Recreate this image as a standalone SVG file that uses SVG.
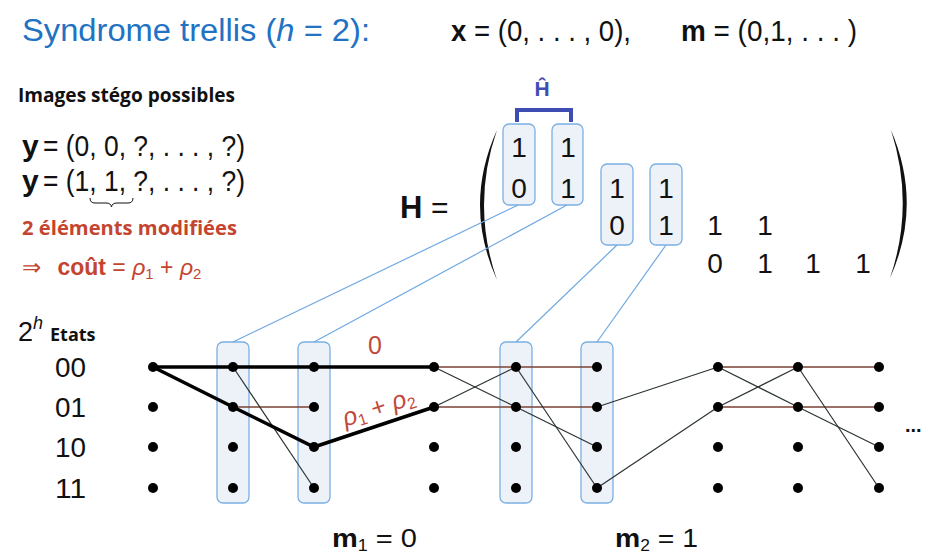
<svg xmlns="http://www.w3.org/2000/svg" width="928" height="554" viewBox="0 0 928 554">
<style>
.sans{font-family:"Liberation Sans",Arial,sans-serif}
.cal{font-family:"Open Sans","Liberation Sans",sans-serif}
.box{fill:#edf1f8;stroke:#7bb0e3;stroke-width:1.3}
.link{stroke:#6fa9e2;stroke-width:1.2;fill:none}
.h{stroke:#7a4234;stroke-width:1.3;fill:none}
.d{stroke:#2b3333;stroke-width:1.2;fill:none}
.thick{stroke:#000;stroke-width:3.5;fill:none;stroke-linecap:round}
.dot{fill:#000}
.num{font-family:"Liberation Sans",Arial,sans-serif;font-size:28px;fill:#111;text-anchor:middle}
.red{fill:#c4452f}
.st{font-family:"Liberation Sans",Arial,sans-serif;font-size:27px;fill:#111}
</style>
<rect width="928" height="554" fill="#fff"/>

<!-- title -->
<g id="title">
<text x="22" y="41" class="sans" font-size="31" fill="#2272c3" textLength="348" lengthAdjust="spacingAndGlyphs">Syndrome trellis (<tspan font-style="italic">h</tspan> = 2):</text>
<text x="451" y="41" class="sans" font-size="30" fill="#111" textLength="180" lengthAdjust="spacingAndGlyphs"><tspan font-weight="bold">x</tspan> = (0, . . . , 0),</text>
<text x="681" y="41" class="sans" font-size="30" fill="#111" textLength="176" lengthAdjust="spacingAndGlyphs"><tspan font-weight="bold">m</tspan> = (0,1, . . . )</text>
</g>

<!-- left texts -->
<g id="stego">
<text x="18" y="102" class="cal" font-size="19" font-weight="bold" fill="#111" textLength="217" lengthAdjust="spacingAndGlyphs">Images stégo possibles</text>
<text x="22" y="156" class="sans" font-size="30" font-weight="bold" fill="#111">y</text>
<text x="43" y="156" class="sans" font-size="30" fill="#111" textLength="202" lengthAdjust="spacingAndGlyphs">= (0, 0, ?, . . . , ?)</text>
<text x="22" y="191" class="sans" font-size="30" font-weight="bold" fill="#111">y</text>
<text x="43" y="191" class="sans" font-size="30" fill="#111" textLength="202" lengthAdjust="spacingAndGlyphs">= (1, 1, ?, . . . , ?)</text>
<path d="M90,198 Q90,203 95,203 L106,203 Q111,203 111.5,207 Q112,203 117,203 L128,203 Q133,203 133,198" fill="none" stroke="#111" stroke-width="1"/>
<text x="22" y="235" class="cal red" font-size="19" font-weight="bold" textLength="215" lengthAdjust="spacingAndGlyphs">2 éléments modifiées</text>
<text x="22" y="275" class="sans red" font-size="23">⇒ <tspan font-weight="bold" dx="10">coût</tspan> = <tspan font-style="italic">ρ</tspan><tspan font-size="15" dy="4">1</tspan><tspan dy="-4"> + </tspan><tspan font-style="italic">ρ</tspan><tspan font-size="15" dy="4">2</tspan></text>
</g>

<!-- matrix -->
<g id="H-label">
<text x="400" y="218" class="sans" font-size="31" font-weight="bold" fill="#111">H</text>
<text x="431" y="218" class="sans" font-size="30" fill="#111">=</text>
<path d="M497,130 Q463,205 497,280 Q471,205 497,130 Z" fill="#111"/>
<path d="M891,130 Q923,205 890,278 Q915,205 891,130 Z" fill="#111"/>
</g>
<g id="Hhat">
<path d="M517,122 L517,110 L571,110 L571,122" fill="none" stroke="#3d4db3" stroke-width="4"/>
<text x="542" y="96" class="sans" font-size="21" font-weight="bold" fill="#3d4db3" text-anchor="middle">Ĥ</text>
</g>
<g id="hbox1"><rect class="box" x="503" y="124" width="32" height="81" rx="6"/></g>
<g id="hbox2"><rect class="box" x="552" y="124" width="31" height="81" rx="6"/></g>
<g id="hbox3"><rect class="box" x="601" y="164" width="32" height="81" rx="6"/></g>
<g id="hbox4"><rect class="box" x="650" y="164" width="32" height="81" rx="6"/></g>
<g id="matrix-entries">
<text class="num" x="519" y="157">1</text><text class="num" x="568" y="157">1</text>
<text class="num" x="519" y="198">0</text><text class="num" x="568" y="198">1</text><text class="num" x="617" y="198">1</text><text class="num" x="666" y="198">1</text>
<text class="num" x="617" y="235">0</text><text class="num" x="666" y="235">1</text><text class="num" x="715" y="235">1</text><text class="num" x="765" y="235">1</text>
<text class="num" x="715" y="273">0</text><text class="num" x="765" y="273">1</text><text class="num" x="813" y="273">1</text><text class="num" x="863" y="273">1</text>
</g>

<!-- state labels -->
<g id="states">
<text x="18" y="341" class="st" font-size="28">2<tspan font-size="18" font-style="italic" dy="-12">h</tspan></text>
<text x="50" y="341" class="cal" font-size="18" font-weight="bold" fill="#111">Etats</text>
<text x="55" y="377" class="st" textLength="31" lengthAdjust="spacingAndGlyphs">00</text>
<text x="55" y="417" class="st" textLength="31" lengthAdjust="spacingAndGlyphs">01</text>
<text x="55" y="457" class="st" textLength="31" lengthAdjust="spacingAndGlyphs">10</text>
<text x="55" y="498" class="st" textLength="31" lengthAdjust="spacingAndGlyphs">11</text>
</g>

<!-- trellis highlight boxes -->
<g id="tbox1"><rect class="box" x="217" y="342" width="32" height="161" rx="6"/></g>
<g id="tbox2"><rect class="box" x="298" y="342" width="32" height="161" rx="6"/></g>
<g id="tbox3"><rect class="box" x="500" y="342" width="32" height="161" rx="6"/></g>
<g id="tbox4"><rect class="box" x="581" y="342" width="32" height="161" rx="6"/></g>

<g id="connectors">
<line class="link" x1="518" y1="205" x2="233" y2="342"/>
<line class="link" x1="567" y1="205" x2="314" y2="342"/>
<line class="link" x1="617" y1="245" x2="516" y2="342"/>
<line class="link" x1="666" y1="245" x2="597" y2="342"/>
<line class="h" x1="233" y1="407" x2="314" y2="407"/>
<line class="d" x1="233" y1="367" x2="314" y2="488"/>
<line class="h" x1="434" y1="367" x2="516" y2="367"/>
<line class="h" x1="434" y1="407" x2="516" y2="407"/>
<line class="d" x1="434" y1="367" x2="516" y2="407"/>
<line class="d" x1="434" y1="407" x2="516" y2="367"/>
<line class="h" x1="516" y1="367" x2="597" y2="367"/>
<line class="h" x1="516" y1="407" x2="597" y2="407"/>
<line class="d" x1="516" y1="367" x2="597" y2="488"/>
<line class="d" x1="516" y1="407" x2="597" y2="447"/>
<line class="d" x1="597" y1="407" x2="718" y2="367"/>
<line class="d" x1="597" y1="488" x2="718" y2="407"/>
<line class="h" x1="718" y1="367" x2="798" y2="367"/>
<line class="h" x1="718" y1="407" x2="798" y2="407"/>
<line class="d" x1="718" y1="367" x2="798" y2="407"/>
<line class="d" x1="718" y1="407" x2="798" y2="367"/>
<line class="h" x1="798" y1="367" x2="879" y2="367"/>
<line class="h" x1="798" y1="407" x2="879" y2="407"/>
<line class="d" x1="798" y1="367" x2="879" y2="488"/>
<line class="d" x1="798" y1="407" x2="879" y2="447"/>
<polyline class="thick" points="153,367 434,367"/>
<polyline class="thick" points="153,367 233,407 314,447 434,407"/>
</g>

<g id="edge-labels">
<text x="375" y="354" class="sans" font-size="25" fill="#bf4a3c" text-anchor="middle">0</text>
<text x="0" y="0" class="sans" font-size="25" fill="#bf4a3c" text-anchor="middle" transform="translate(381,415) rotate(-18.4)"><tspan font-style="italic">ρ</tspan><tspan font-size="16" dy="4">1</tspan><tspan dy="-4"> + </tspan><tspan font-style="italic">ρ</tspan><tspan font-size="16" dy="4">2</tspan></text>
</g>

<g id="col0" class="dot"><circle cx="153" cy="367" r="5"/><circle cx="153" cy="407" r="5"/><circle cx="153" cy="447" r="5"/><circle cx="153" cy="488" r="5"/></g>
<g id="col1" class="dot"><circle cx="233" cy="367" r="5"/><circle cx="233" cy="407" r="5"/><circle cx="233" cy="447" r="5"/><circle cx="233" cy="488" r="5"/></g>
<g id="col2" class="dot"><circle cx="314" cy="367" r="5"/><circle cx="314" cy="407" r="5"/><circle cx="314" cy="447" r="5"/><circle cx="314" cy="488" r="5"/></g>
<g id="col3" class="dot"><circle cx="434" cy="367" r="5"/><circle cx="434" cy="407" r="5"/><circle cx="434" cy="447" r="5"/><circle cx="434" cy="488" r="5"/></g>
<g id="col4" class="dot"><circle cx="516" cy="367" r="5"/><circle cx="516" cy="407" r="5"/><circle cx="516" cy="447" r="5"/><circle cx="516" cy="488" r="5"/></g>
<g id="col5" class="dot"><circle cx="597" cy="367" r="5"/><circle cx="597" cy="407" r="5"/><circle cx="597" cy="447" r="5"/><circle cx="597" cy="488" r="5"/></g>
<g id="col6" class="dot"><circle cx="718" cy="367" r="5"/><circle cx="718" cy="407" r="5"/><circle cx="718" cy="447" r="5"/><circle cx="718" cy="488" r="5"/></g>
<g id="col7" class="dot"><circle cx="798" cy="367" r="5"/><circle cx="798" cy="407" r="5"/><circle cx="798" cy="447" r="5"/><circle cx="798" cy="488" r="5"/></g>
<g id="col8" class="dot"><circle cx="879" cy="367" r="5"/><circle cx="879" cy="407" r="5"/><circle cx="879" cy="447" r="5"/><circle cx="879" cy="488" r="5"/></g>
<g id="ellipsis"><text x="905" y="432" class="sans" font-size="20" font-weight="bold" fill="#111">...</text></g>

<g id="messages">
<text x="332" y="547" class="sans" font-size="26" fill="#111" textLength="85" lengthAdjust="spacingAndGlyphs"><tspan font-weight="bold">m</tspan><tspan font-size="16" dy="4">1</tspan><tspan dy="-4"> = 0</tspan></text>
<text x="615" y="547" class="sans" font-size="26" fill="#111" textLength="83" lengthAdjust="spacingAndGlyphs"><tspan font-weight="bold">m</tspan><tspan font-size="16" dy="4">2</tspan><tspan dy="-4"> = 1</tspan></text>
</g>
</svg>
